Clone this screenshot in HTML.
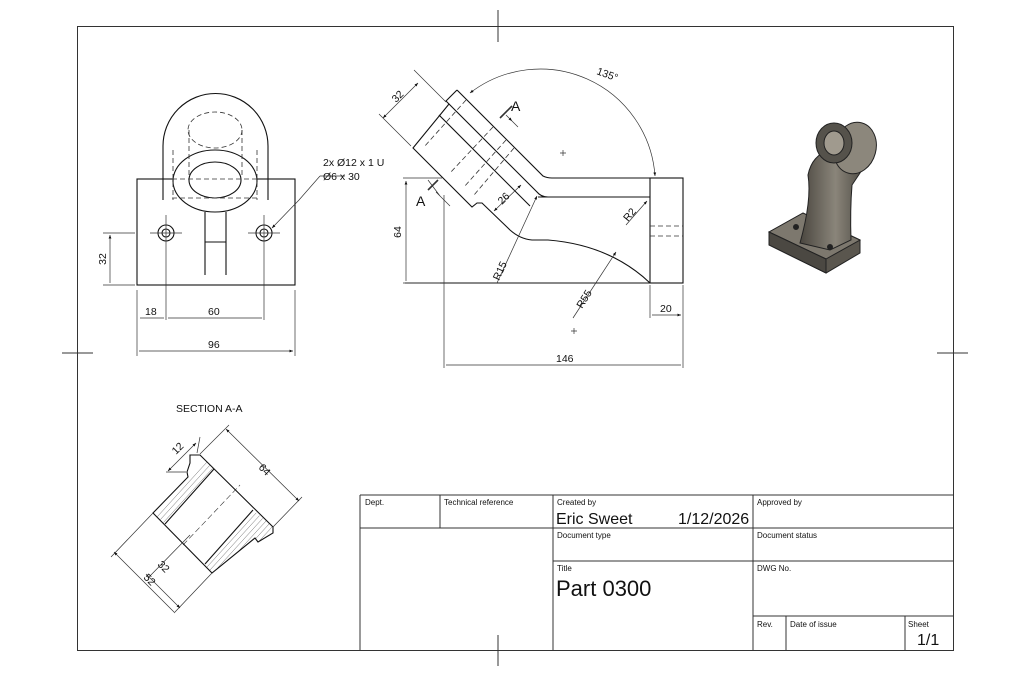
<!DOCTYPE html>
<html><head><meta charset="utf-8"><style>
html,body{margin:0;padding:0;background:#fff}
svg{display:block}
text{font-family:"Liberation Sans",sans-serif;fill:#111}
</style></head><body>
<svg width="1024" height="683" viewBox="0 0 1024 683" xmlns="http://www.w3.org/2000/svg">
<defs>
<marker id="a" viewBox="0 0 10 10" refX="10" refY="5" markerWidth="7" markerHeight="5" orient="auto-start-reverse"><path d="M0,1 L10,5 L0,9z" fill="#111"/></marker>
<linearGradient id="g" x1="0" x2="1"><stop offset="0" stop-color="#4a463f"/><stop offset=".5" stop-color="#8a857a"/><stop offset="1" stop-color="#3e3b35"/></linearGradient>
<clipPath id="b1"><path d="M153 513L188 477L187 472L190 463L190 455H200L214 469L165 524Z"/></clipPath>
<clipPath id="b2"><path d="M205 564L253 510L273 527V533L258 542L255 538L212 573Z"/></clipPath>
</defs>
<g fill="none" stroke="#333" stroke-width="1">
<rect x="77.5" y="26.5" width="876" height="624"/>
<path d="M498 10V42M498 635V666M62 353H93M937 353H968"/>
<path d="M360 495H953M360 495V650M360 528H953M553 561H953M753 616H953M440 495V528M553 495V650M753 495V650M786 616V650M905 616V650"/>
</g>
<g font-size="8">
<text x="365" y="505">Dept.</text><text x="444" y="505">Technical reference</text>
<text x="557" y="505">Created by</text><text x="757" y="505">Approved by</text>
<text x="557" y="538">Document type</text><text x="757" y="538">Document status</text>
<text x="557" y="571">Title</text><text x="757" y="571">DWG No.</text>
<text x="757" y="627">Rev.</text><text x="790" y="627">Date of issue</text><text x="908" y="627">Sheet</text>
</g>
<text x="556" y="524" font-size="16">Eric Sweet</text>
<text x="678" y="524" font-size="16">1/12/2026</text>
<text x="556" y="596" font-size="22">Part 0300</text>
<text x="917" y="645" font-size="16">1/1</text>

<!-- FRONT VIEW -->
<g fill="none" stroke="#111" stroke-width="1.1">
<rect x="137" y="179" width="158" height="106"/>
<path d="M163 200V146A52.5 52.5 0 0 1 268 146V200"/>
<ellipse cx="215" cy="181" rx="42" ry="31" fill="#fff"/>
<ellipse cx="215" cy="180" rx="26" ry="18"/>
<path d="M205 212V275M226 212V275M205 242H226"/>
<circle cx="166" cy="233" r="8"/><circle cx="166" cy="233" r="4"/>
<circle cx="264" cy="233" r="8"/><circle cx="264" cy="233" r="4"/>
</g>
<g fill="none" stroke="#333" stroke-width=".8" stroke-dasharray="5 3">
<ellipse cx="215" cy="130" rx="27" ry="18"/>
<path d="M189 130V175M242 130V175M172 179H258M172 198H258M173 150V200M257 150V200"/>
</g>
<g fill="none" stroke="#333" stroke-width=".7">
<path d="M150 233H182M248 233H280M166 215V320M264 215V320M137 290V356M295 290V356M103 233H135M103 285H135"/>
<path d="M110 235V283M140 318H164M168 318H262M139 351H293" marker-start="url(#a)" marker-end="url(#a)"/>
<path d="M320 176L299 200L272 228" marker-end="url(#a)"/>
<path d="M320 176H345"/>
</g>
<g font-size="10.5">
<text x="145" y="315">18</text><text x="208" y="315">60</text><text x="208" y="348">96</text>
<text transform="translate(106 259) rotate(-90)" text-anchor="middle">32</text>
<text x="323" y="166">2x Ø12 x 1 U</text><text x="323" y="180">Ø6 x 30</text>
</g>

<!-- SIDE VIEW -->
<g fill="none" stroke="#111" stroke-width="1.1">
<rect x="650" y="178" width="33" height="105"/>
<path d="M457 90L543 176Q547 178 552 178H650"/>
<path d="M457 90L446 101L449 104L413 148L472 207L477 203H482L510 230Q520 239 532 240H548Q610 245 650 283"/>
<path d="M405 283H650"/>
<path d="M538 197H650M449 104L537 192Q541 197 548 197"/>
<path d="M439 115L530 206"/>
</g>
<g fill="none" stroke="#333" stroke-width=".8" stroke-dasharray="5 3">
<path d="M466 100L424 147M493 127L450 173M506 140L464 187M514 148L474 195M650 226H683M650 236H683"/>
</g>
<g fill="none" stroke="#333" stroke-width=".7">
<path d="M560 153h6M563 150v6M571 331h6M574 328v6"/>
<path d="M403 178H442M403 283H440M444 195V368M683 285V368M650 285V318"/>
<path d="M406 181V281M446 365H681M652 315H681" marker-start="url(#a)" marker-end="url(#a)"/>
<path d="M411 146L379 114M446 102L414 70"/>
<path d="M383 118L418 83" marker-start="url(#a)" marker-end="url(#a)"/>
<path d="M470 93A115 115 0 0 1 655 176" marker-start="url(#a)" marker-end="url(#a)"/>
<path d="M494 211L521 185" marker-start="url(#a)" marker-end="url(#a)"/>
<path d="M497 283L537 196" marker-end="url(#a)"/>
<path d="M573 318L616 252" marker-end="url(#a)"/>
<path d="M626 225L647 201" marker-end="url(#a)"/>
<path d="M506 115L518 127M506 115L512 121" marker-end="url(#a)"/>
<path d="M436 192L450 206M428 180L440 196" />
<path d="M500 118L512 106" stroke-width="1.6"/><path d="M428 190L438 180" stroke-width="1.6"/>
</g>
<g font-size="10.5">
<text x="556" y="362">146</text><text x="660" y="312">20</text>
<text transform="translate(401 232) rotate(-90)" text-anchor="middle">64</text>
<text transform="translate(396 103) rotate(-45)">32</text>
<text transform="translate(502 205) rotate(-45)">26</text>
<text transform="translate(596 74) rotate(20)">135°</text>
<text transform="translate(499 281) rotate(-65)">R15</text>
<text transform="translate(582 309) rotate(-58)">R55</text>
<text transform="translate(628 222) rotate(-50)">R2</text>
</g>
<text x="511" y="111" font-size="14">A</text>
<text x="416" y="206" font-size="14">A</text>

<!-- ISO VIEW -->
<g stroke="#222" stroke-width="1">
<path d="M769 232L803 213L860 240L860 253L826 273L769 245Z" fill="#5a564e"/>
<path d="M769 232L803 213L860 240L826 259Z" fill="#7d786e"/>
<path d="M769 232L826 259V273L769 245Z" fill="#4b4842"/>
<path d="M800 243Q812 200 808 175Q812 155 830 150L862 135Q880 150 862 170L852 185Q850 210 851 240L830 250Z" fill="url(#g)"/>
<ellipse cx="855" cy="148" rx="21" ry="26" transform="rotate(15 855 148)" fill="#8c877c"/>
<ellipse cx="834" cy="143" rx="18" ry="20" fill="#55524b"/>
<ellipse cx="834" cy="143" rx="10" ry="12" fill="#a09a8e"/>
<circle cx="796" cy="227" r="2.5" fill="#222"/><circle cx="830" cy="247" r="2.5" fill="#222"/>
</g>

<!-- SECTION -->
<text x="176" y="412" font-size="10.5">SECTION A-A</text>
<g clip-path="url(#b1)" stroke="#666" stroke-width=".5" fill="none">
<path d="M137 539L217 451M140 542L220 454M143 545L223 457M146 548L226 460M149 551L229 463"/>
</g>
<g clip-path="url(#b2)" stroke="#666" stroke-width=".5" fill="none">
<path d="M187 589L267 501M190 592L270 504M193 595L273 507M196 598L276 510M199 601L279 513M202 604L282 516"/>
</g>
<g fill="none" stroke="#111" stroke-width="1.1">
<path d="M190 455H200L273 527V533L258 542L255 538L212 573L153 513L188 477L187 472L190 463Z"/>
<path d="M165 524L214 469M205 564L253 510"/>
</g>
<g fill="none" stroke="#333" stroke-width=".6" stroke-dasharray="6 3"><path d="M183 545L240 485"/></g>
<g fill="none" stroke="#333" stroke-width=".7">
<path d="M200 454L229 425M273 527L302 497M186 472L166 472M197 453L200 437"/>
<path d="M226 429L299 501" marker-start="url(#a)" marker-end="url(#a)"/>
<path d="M168 471L196 443" marker-start="url(#a)" marker-end="url(#a)"/>
<path d="M153 513L111 557M190 535L148 578M212 573L175 612"/>
<path d="M114 552L175 613M146 574L180 608" marker-start="url(#a)" marker-end="url(#a)"/>
</g>
<g font-size="10.5">
<text transform="translate(258 468) rotate(45)">64</text>
<text transform="translate(176 455) rotate(-45)">12</text>
<text transform="translate(157 565) rotate(45)">32</text>
<text transform="translate(143 578) rotate(45)">52</text>
</g>
</svg>
</body></html>
